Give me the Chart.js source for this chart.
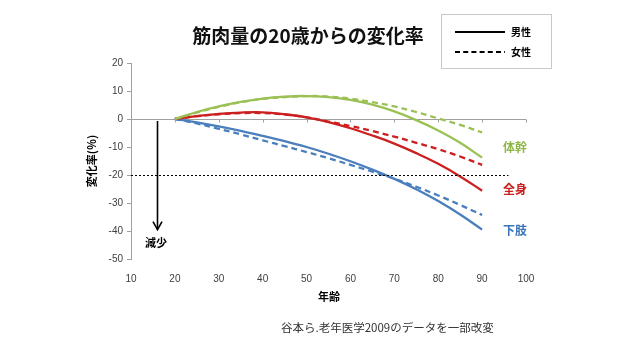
<!DOCTYPE html>
<html><head><meta charset="utf-8">
<script src="https://cdn.jsdelivr.net/npm/chart.js@4"></script>
<style>html,body{margin:0;padding:0;background:#fff}#wrap{width:640px;height:350px}</style>
</head><body><div id="wrap"><canvas id="c" width="640" height="350"></canvas></div>
<script>
const ages = [20,25,30,35,40,45,50,55,60,65,70,75,80,85,90];
const trunkMale   = [0,2.5,4.5,6.1,7.3,8,8.2,7.8,6.8,5.1,2.7,-0.4,-4.1,-8.5,-13.8];
const trunkFemale = [0,2.3,4.3,6,7.2,7.8,8.2,8,7.3,6,4.5,2.5,0.2,-2.1,-4.8];
const wholeMale   = [0,1,1.8,2.3,2.4,1.7,0.6,-1.1,-3.3,-5.9,-8.8,-12.2,-16,-20.5,-25.6];
const wholeFemale = [0,1,1.7,2.1,2.1,1.6,0.6,-0.9,-2.5,-4.3,-6.3,-8.5,-10.8,-13.4,-16.4];
const legMale     = [0,-1.2,-2.6,-4.2,-6,-7.9,-10,-12.4,-15.1,-18.1,-21.4,-25.1,-29.3,-34.1,-39.5];
const legFemale   = [0,-1.6,-3.5,-5.5,-7.6,-9.7,-11.8,-14,-16.4,-18.8,-21.3,-24.2,-27.3,-30.7,-34.3];
const xTicks = [10,20,30,40,50,60,70,80,90,100];
const yTicks = [20,10,0,-10,-20,-30,-40,-50];
const refLine = {y:-20, xFrom:10, xTo:96};
const arrow = {x:16, yFrom:0, yTo:-39.5};
const seriesLabels = [
  {text:'体幹', color:'#8db848'},
  {text:'全身', color:'#cc1f1f'},
  {text:'下肢', color:'#3a75b8'}
];

const GREEN='#9bc155', RED='#cc1f1f', BLUE='#4a7ebc';
function pts(arr){ return ages.map((a,i)=>({x:a,y:arr[i]})); }
function ds(label, arr, color, dashed){
  return {label, data:pts(arr), borderColor:color, backgroundColor:color, borderWidth:2.3,
    borderDash: dashed?[6,4]:[], pointRadius:0, tension:0.4, fill:false};
}

const annot = {
  id:'annot',
  afterDatasetsDraw(chart){
    const ctx = chart.ctx, xs = chart.scales.x, ys = chart.scales.y;
    ctx.save();
    ctx.strokeStyle='#a0a0a0'; ctx.lineWidth=1;
    const y0 = Math.round(ys.getPixelForValue(0))+0.5;
    xTicks.slice(1).forEach(v=>{
      const px = Math.round(xs.getPixelForValue(v))+0.5;
      ctx.beginPath(); ctx.moveTo(px,y0); ctx.lineTo(px,y0+3); ctx.stroke();
    });
    ctx.strokeStyle='#000'; ctx.lineWidth=1; ctx.setLineDash([2,2]);
    const yr = Math.round(ys.getPixelForValue(refLine.y))+0.5;
    ctx.beginPath(); ctx.moveTo(xs.getPixelForValue(refLine.xFrom),yr); ctx.lineTo(xs.getPixelForValue(refLine.xTo),yr); ctx.stroke();
    ctx.setLineDash([]);
    const ax = Math.round(xs.getPixelForValue(arrow.x))+0.5;
    const ay1 = ys.getPixelForValue(arrow.yFrom)+2, ay2 = ys.getPixelForValue(arrow.yTo);
    ctx.lineWidth=1.6; ctx.strokeStyle='#000';
    ctx.beginPath(); ctx.moveTo(ax,ay1); ctx.lineTo(ax,ay2); ctx.stroke();
    ctx.beginPath(); ctx.moveTo(ax-4.5,ay2-8); ctx.lineTo(ax,ay2); ctx.lineTo(ax+4.5,ay2-8); ctx.stroke();
    ctx.restore();
  },
  afterDraw(chart){
    const ctx = chart.ctx;
    ctx.save();
    const JP = '"Noto Sans CJK JP"';
    ctx.fillStyle='#111'; ctx.textAlign='center'; ctx.textBaseline='middle';
    ctx.font='bold 19px '+JP;
    ctx.fillText('筋肉量の20歳からの変化率', 308, 36);
    ctx.strokeStyle='#c8c8c8'; ctx.lineWidth=1;
    ctx.strokeRect(441.5,14.5,110,54);
    ctx.strokeStyle='#000'; ctx.lineWidth=2;
    ctx.beginPath(); ctx.moveTo(455,32); ctx.lineTo(505,32); ctx.stroke();
    ctx.setLineDash([5,3.2]);
    ctx.beginPath(); ctx.moveTo(455,52); ctx.lineTo(505,52); ctx.stroke();
    ctx.setLineDash([]);
    ctx.fillStyle='#000'; ctx.textAlign='left'; ctx.font='bold 10px '+JP;
    ctx.fillText('男性', 511, 32);
    ctx.fillText('女性', 511, 52);
    ctx.font='bold 12px '+JP; ctx.textAlign='left';
    const ly=[147,189,230];
    seriesLabels.forEach((s,i)=>{ ctx.fillStyle=s.color; ctx.fillText(s.text, 503, ly[i]); });
    ctx.fillStyle='#000'; ctx.textAlign='center'; ctx.font='bold 11px '+JP;
    ctx.fillText('減少', 156, 243);
    ctx.fillText('年齢', 329, 297);
    ctx.save(); ctx.translate(92,161); ctx.rotate(-Math.PI/2);
    ctx.fillText('変化率(％)', 0, 0); ctx.restore();
    ctx.font='11.5px '+JP; ctx.fillStyle='#333'; ctx.textAlign='left';
    ctx.fillText('谷本ら.老年医学2009のデータを一部改変', 281, 328);
    ctx.restore();
  }
};

new Chart(document.getElementById('c'), {
  type:'line',
  data:{datasets:[
    ds('体幹 男性', trunkMale, GREEN, false),
    ds('体幹 女性', trunkFemale, GREEN, true),
    ds('全身 男性', wholeMale, RED, false),
    ds('全身 女性', wholeFemale, RED, true),
    ds('下肢 男性', legMale, BLUE, false),
    ds('下肢 女性', legFemale, BLUE, true)
  ]},
  options:{
    responsive:false, animation:false, devicePixelRatio:1,
    layout:{padding:{top:63,right:114,bottom:0,left:0}},
    plugins:{legend:{display:false}, tooltip:{enabled:false}},
    scales:{
      x:{type:'linear', min:10, max:100, position:'bottom',
        afterFit(s){ s.height = 91; },
        afterBuildTicks(s){ s.ticks = xTicks.map(v=>({value:v})); },
        grid:{display:false, drawTicks:false}, border:{display:false},
        ticks:{padding:14, color:'#404040', font:{family:'Liberation Sans', size:10}}
      },
      y:{type:'linear', min:-50, max:20,
        afterFit(s){ s.width = 131; },
        afterBuildTicks(s){ s.ticks = yTicks.map(v=>({value:v})); },
        border:{display:true, color:'#a0a0a0', width:1},
        grid:{drawOnChartArea:true, drawTicks:true, tickLength:4, tickColor:'#a0a0a0',
          color:(c)=> (c.tick && c.tick.value===0) ? '#a0a0a0' : 'rgba(0,0,0,0)'},
        ticks:{padding:4, color:'#404040', font:{family:'Liberation Sans', size:10}}
      }
    }
  },
  plugins:[annot]
});
</script></body></html>
